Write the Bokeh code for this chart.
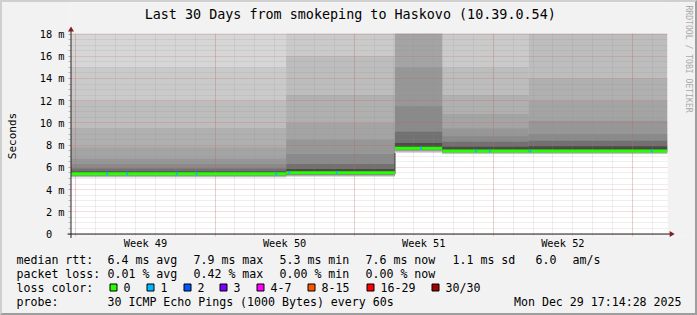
import math
from bokeh.plotting import figure
from bokeh.layouts import column
from bokeh.models import Range1d, LinearAxis, FixedTicker, Grid
from bokeh.core.properties import value
from bokeh.embed import file_html
from bokeh.resources import INLINE

# ---------------- data ----------------
title_text = "Last 30 Days from smokeping to Haskovo (10.39.0.54)"

y_ticks = [0, 2, 4, 6, 8, 10, 12, 14, 16, 18]
y_tick_labels = ["0\u00a0\u00a0", "2 m", "4 m", "6 m", "8 m", "10 m",
                 "12 m", "14 m", "16 m", "18 m"]
y_minor_ticks = [0.5, 1.0, 1.5, 2.5, 3.0, 3.5, 4.5, 5.0, 5.5, 6.5, 7.0, 7.5,
                 8.5, 9.0, 9.5, 10.5, 11.0, 11.5, 12.5, 13.0, 13.5, 14.5,
                 15.0, 15.5, 16.5, 17.0, 17.5]
day_lines = [0.25, 1.25, 2.25, 3.25, 4.25, 5.25, 6.25, 7.25, 8.25, 9.25,
             10.25, 11.25, 12.25, 13.25, 14.25, 15.25, 16.25, 17.25, 18.25,
             19.25, 20.25, 21.25, 22.25, 23.25, 24.25, 25.25, 26.25, 27.25,
             28.25, 29.25]
week_lines = [0.25, 7.25, 14.25, 21.25, 28.25]
week_label_pos = [3.75, 10.75, 17.75, 24.75]
week_labels = ["Week 49", "Week 50", "Week 51", "Week 52"]

# piecewise description of smoke / median (days since start, ms)
seg_start = [0.0, 10.83, 16.3, 18.68, 23.03]
seg_end = [10.83, 16.3, 18.68, 23.03, 30.0]
median_ms = [5.43, 5.52, 7.72, 7.48, 7.48]

smoke_gray = ["#e3e3e3", "#d6d6d6", "#cacaca", "#bdbdbd", "#b0b0b0",
              "#a4a4a4", "#979797", "#8a8a8a", "#717171", "#4b4b4b"]
smoke_hi_ms = [
    [18.5, 18.5, 15.0, 12.0, 9.5, 7.8, 6.8, 6.3, 5.9, 5.62],
    [18.5, 18.5, 18.5, 16.0, 12.5, 10.0, 8.5, 7.2, 6.3, 5.85],
    [18.5, 18.5, 18.5, 18.5, 18.5, 18.5, 15.0, 11.5, 9.2, 8.2],
    [18.5, 18.5, 18.5, 15.0, 12.5, 10.8, 9.5, 8.8, 8.3, 7.85],
    [18.5, 18.5, 18.5, 18.0, 14.0, 12.0, 10.2, 9.0, 8.4, 7.9],
]
smoke_lo_ms = [
    [5.08, 5.10, 5.12, 5.15, 5.18, 5.21, 5.24, 5.27, 5.30, 5.34],
    [5.15, 5.17, 5.19, 5.22, 5.25, 5.28, 5.31, 5.34, 5.37, 5.41],
    [7.30, 7.33, 7.36, 7.40, 7.44, 7.48, 7.52, 7.56, 7.60, 7.64],
    [7.18, 7.20, 7.22, 7.25, 7.28, 7.31, 7.34, 7.37, 7.40, 7.42],
    [7.18, 7.20, 7.22, 7.25, 7.28, 7.31, 7.34, 7.37, 7.40, 7.42],
]

loss1_days = [1.78, 2.78, 5.28, 6.28, 10.28, 10.93, 13.33, 17.58,
              20.33, 21.03, 23.08, 29.18]

rtt_label = "median rtt:"
rtt_stats = ["6.4 ms avg", "7.9 ms max", "5.3 ms min", "7.6 ms now",
             "1.1 ms sd", "6.0", "am/s"]
loss_label = "packet loss:"
loss_stats = ["0.01 % avg", "0.42 % max", "0.00 % min", "0.00 % now"]
color_label = "loss color:"
loss_names = ["0", "1", "2", "3", "4-7", "8-15", "16-29", "30/30"]
loss_colors = ["#26ff00", "#00b8ff", "#0059ff", "#7e00ff",
               "#ff00ff", "#ff5500", "#ff0000", "#a10000"]
probe_label = "probe:"
probe_text = "30 ICMP Echo Pings (1000 Bytes) every 60s"
date_text = "Mon Dec 29 17:14:28 2025"
watermark = "RRDTOOL / TOBI OETIKER"
y_axis_title = "Seconds"

# ---------------- styling / layout ----------------
FONT = "DejaVu Sans Mono"
BG = "#F2F2F2"
PX_PER_DAY = 20.0
MS_PER_PX = 0.09
X_ORIG, Y_ORIG = 66.5, 233.5        # canvas pixel of (day 0, 0 ms)


def dx(cx):
    return (cx - X_ORIG) / PX_PER_DAY


def dy(cy):
    return (Y_ORIG - cy) * MS_PER_PX


# main figure: canvas x 2..695, y 2..253 ; frame canvas x 66..695, y 2..236
main = figure(width=693, height=251,
              x_range=Range1d(dx(66), dx(695)), y_range=Range1d(dy(236), dy(2)),
              x_axis_type=None, y_axis_type=None, title=None,
              toolbar_location=None, output_backend="svg",
              min_border_left=64, min_border_right=0, min_border_top=0,
              min_border_bottom=17,
              border_fill_color=BG, background_fill_color="#FFFFFF",
              outline_line_color=None)

# background strip under the axis (outside the graph canvas)
main.quad(left=[dx(66)], right=[dx(695)], bottom=[dy(236)], top=[dy(234)],
          fill_color=BG, line_color=None, level="image")

# smoke
for k, col in enumerate(smoke_gray):
    main.quad(left=seg_start, right=seg_end,
              bottom=[row[k] for row in smoke_lo_ms],
              top=[row[k] for row in smoke_hi_ms],
              fill_color=col, line_color=None, level="image")
# dark edge where the smoke jumps between two levels
main.segment(x0=seg_end[1:2], x1=seg_end[1:2],
             y0=[smoke_lo_ms[1][-1]], y1=[smoke_lo_ms[2][0]],
             line_color=smoke_gray[-1], line_width=1.2, level="image")

# grids
main.add_layout(Grid(dimension=0,
                     ticker=FixedTicker(ticks=week_lines, minor_ticks=day_lines),
                     grid_line_color="#DE4F4F", grid_line_alpha=0.4,
                     grid_line_dash="1 1",
                     minor_grid_line_color="#8F8F8F", minor_grid_line_alpha=0.3,
                     minor_grid_line_dash="1 1"))
main.add_layout(Grid(dimension=1,
                     ticker=FixedTicker(ticks=y_ticks, minor_ticks=y_minor_ticks),
                     grid_line_color="#DE4F4F", grid_line_alpha=0.4,
                     grid_line_dash="1 1",
                     minor_grid_line_color="#8F8F8F", minor_grid_line_alpha=0.3,
                     minor_grid_line_dash="1 1"))

# median line, coloured by loss
main.segment(x0=seg_start, x1=seg_end, y0=median_ms, y1=median_ms,
             line_color=loss_colors[0], line_width=3)


def median_at(d):
    for s, e, m in zip(seg_start, seg_end, median_ms):
        if s <= d < e:
            return m
    return median_ms[-1]


main.segment(x0=loss1_days, x1=[d + 0.08 for d in loss1_days],
             y0=[median_at(d) for d in loss1_days],
             y1=[median_at(d) for d in loss1_days],
             line_color=loss_colors[1], line_width=3)

# cover the frame outside the graph canvas (top and right)
main.quad(left=[dx(66), dx(667)], right=[dx(695), dx(695)],
          bottom=[dy(33), dy(236)], top=[dy(2), dy(2)],
          fill_color=BG, line_color=None, level="overlay")

# axis lines with arrows
main.segment(x0=[dx(63), dx(66.5)], x1=[dx(671), dx(66.5)],
             y0=[dy(233.5), dy(237.5)], y1=[dy(233.5), dy(29)],
             line_color="#1F1F1F", line_width=1, level="overlay")
main.patches(xs=[[dx(669), dx(669), dx(674)], [dx(63.5), dx(69.5), dx(66.5)]],
             ys=[[dy(230.5), dy(236.5), dy(233.5)], [dy(31), dy(31), dy(26)]],
             fill_color="#801F1F", line_color=None, level="overlay")

# title and watermark
main.text(x=[dx(347.5)], y=[dy(14)], text=[title_text],
          text_font=value(FONT), text_font_size=value("13.4px"),
          text_align="center", text_baseline="middle", text_color="#000000",
          level="overlay")
main.text(x=[dx(688)], y=[dy(5)], text=[watermark], angle=-math.pi / 2,
          text_font=value(FONT), text_font_size=value("8.1px"),
          text_align="left", text_baseline="middle", text_color="#AAAAAA",
          level="overlay")

# axes
yax = LinearAxis(ticker=FixedTicker(ticks=y_ticks, minor_ticks=y_minor_ticks),
                 major_label_overrides=dict(zip(y_ticks, y_tick_labels)),
                 axis_line_color=None,
                 major_tick_in=0, major_tick_out=2, minor_tick_in=0, minor_tick_out=2,
                 major_tick_line_color="#DE4F4F", major_tick_line_alpha=0.6,
                 minor_tick_line_color="#8F8F8F", minor_tick_line_alpha=0.6,
                 major_label_standoff=4,
                 major_label_text_font=FONT, major_label_text_font_size="10.3px",
                 major_label_text_color="#000000",
                 axis_label=y_axis_title + "\u00a0" * 5,
                 axis_label_standoff=18,
                 axis_label_text_font=FONT, axis_label_text_font_size="11px",
                 axis_label_text_font_style="normal",
                 axis_label_text_color="#000000")
main.add_layout(yax, "left")

xax = LinearAxis(ticker=FixedTicker(ticks=week_label_pos),
                 major_label_overrides=dict(zip(week_label_pos, week_labels)),
                 axis_line_color=None,
                 major_tick_in=0, major_tick_out=0, minor_tick_in=0, minor_tick_out=0,
                 major_label_standoff=0,
                 major_label_text_font=FONT, major_label_text_font_size="10.3px",
                 major_label_text_color="#000000")
main.add_layout(xax, "below")

# legend strip: canvas x 2..695, y 253..313 (data = canvas pixels)
leg = figure(width=693, height=60, x_range=Range1d(2, 695), y_range=Range1d(313, 253),
             x_axis_type=None, y_axis_type=None, title=None,
             toolbar_location=None, output_backend="svg", min_border=0,
             border_fill_color=BG, background_fill_color=BG,
             outline_line_color=None)

# do not align the legend strip's frame with the chart's frame
if "frame_align" in leg.properties():
    leg.frame_align = False
    main.frame_align = False

ROW = [259, 273, 287, 301]
LEFT = 16
tx, ty, tt = [], [], []


def put(x, y, t):
    tx.append(x)
    ty.append(y)
    tt.append(t)


put(LEFT, ROW[0], rtt_label)
for x, t in zip([107, 193, 279, 365, 452, 535, 572], rtt_stats):
    put(x, ROW[0], t)
put(LEFT, ROW[1], loss_label)
for x, t in zip([107, 193, 279, 365], loss_stats):
    put(x, ROW[1], t)
put(LEFT, ROW[2], color_label)
box_x = [109, 146, 183, 219, 256, 307, 366, 431]
for bx, name in zip(box_x, loss_names):
    put(bx + 14, ROW[2], name)
put(LEFT, ROW[3], probe_label)
put(107, ROW[3], probe_text)

leg.text(x=tx, y=ty, text=tt, text_font=value(FONT), text_font_size=value("11.6px"),
         text_align="left", text_baseline="middle", text_color="#000000")
leg.text(x=[681], y=[ROW[3]], text=[date_text], text_font=value(FONT),
         text_font_size=value("11.6px"), text_align="right",
         text_baseline="middle", text_color="#000000")
leg.quad(left=[b + 0.5 for b in box_x], right=[b + 7.5 for b in box_x],
         top=[283.5] * len(box_x), bottom=[290.5] * len(box_x),
         fill_color=loss_colors, line_color="#000000", line_width=1)

layout = column(main, leg, styles={
    "border-style": "solid", "border-width": "2px",
    "border-color": "#CFCFCF #9E9E9E #9E9E9E #CFCFCF",
    "background-color": BG})

open("out.html", "w").write(file_html(layout, INLINE))
